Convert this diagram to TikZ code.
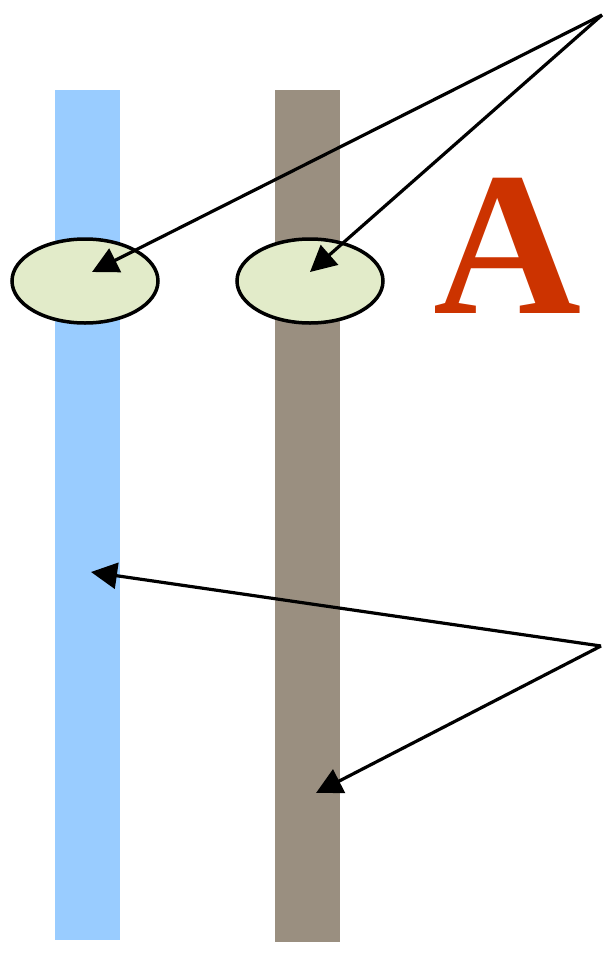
\documentclass[tikz,border=0pt]{standalone}
\usepackage{fontspec}
\setmainfont{Liberation Serif}
\usetikzlibrary{arrows.meta,shapes.geometric}
\definecolor{barblue}{HTML}{99CCFF}
\definecolor{bargray}{HTML}{9A8F80}
\definecolor{ellfill}{HTML}{E2EBC9}
\definecolor{letterred}{HTML}{CC3300}
\begin{document}
\begin{tikzpicture}[x=1pt,y=-1pt,
  bar/.style={rectangle,draw=none,minimum width=65pt,inner sep=0pt},
  spot/.style={ellipse,draw=black,line width=3.5pt,fill=ellfill,minimum width=146pt,minimum height=84pt,inner sep=0pt},
  pointer/.style={draw=black,line width=3.2pt,-{Triangle[length=26pt,width=26pt]}}]
\useasboundingbox (0,0) rectangle (606,969);
\node[bar,fill=barblue,minimum height=850pt] (b1) at (87.5,515) {};
\node[bar,fill=bargray,minimum height=852pt] (b2) at (307.5,516) {};
\node[spot] (e1) at (85,281) {};
\node[spot] (e2) at (310,281) {};
\node[anchor=base,inner sep=0pt,text=letterred,font=\bfseries\fontsize{205}{205}\selectfont] (A) at (508,313) {A};
\coordinate (s1) at (602,15);
\coordinate (s2) at (601,646);
\coordinate (t1) at (92,272);
\coordinate (t2) at (310,272);
\coordinate (t3) at (91,572);
\coordinate (t4) at (316,793);
\draw[pointer] (s1) -- (t1);
\draw[pointer] (s1) -- (t2);
\draw[pointer] (s2) -- (t3);
\draw[pointer] (s2) -- (t4);
\end{tikzpicture}
\end{document}
